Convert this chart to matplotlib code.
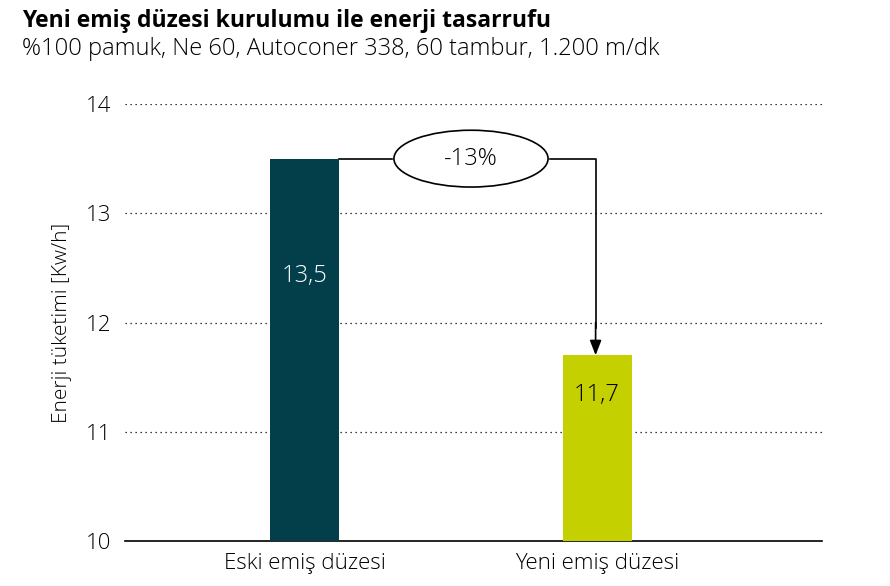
import matplotlib.pyplot as plt
from matplotlib.patches import Ellipse

categories = ['Eski emiş düzesi', 'Yeni emiş düzesi']
values = [13.5, 11.7]
value_labels = ['13,5', '11,7']
change_label = '-13%'
title = 'Yeni emiş düzesi kurulumu ile enerji tasarrufu'
subtitle = '%100 pamuk, Ne 60, Autoconer 338, 60 tambur, 1.200 m/dk'
ylabel = 'Enerji tüketimi [Kw/h]'

bar_colors = ['#023f4b', '#c5d000']
text_colors = ['white', 'black']
label_drop = [1.07, 0.36]  # how far below the bar top the value label sits

plt.rcParams['font.family'] = ['Open Sans', 'DejaVu Sans']

fig = plt.figure(figsize=(8.9, 5.86), dpi=100)
ax = fig.add_axes([0.1404, 0.0768, 0.7832, 0.7457])

x = list(range(len(categories)))
ax.bar(x, [v - 10 for v in values], bottom=10, width=0.236, color=bar_colors, zorder=3)
for xi, v, lab, c, d in zip(x, values, value_labels, text_colors, label_drop):
    ax.text(xi, v - d, lab, ha='center', va='center', fontsize=17, color=c,
            fontweight='light', zorder=4)

ax.set_xlim(-0.614, 1.769)
ax.set_ylim(10, 14)
ax.set_yticks([10, 11, 12, 13, 14])
ax.set_xticks(x)
ax.set_xticklabels(categories, fontsize=16, fontweight='light')
ax.tick_params(axis='y', labelsize=16, length=0, pad=10)
ax.tick_params(axis='x', length=0, pad=9)
for lab in ax.get_yticklabels():
    lab.set_fontweight('light')
ax.set_ylabel(ylabel, fontsize=15, fontweight='light', labelpad=10)

ax.grid(axis='y', linestyle=(0, (1, 3)), color='black', linewidth=0.9, zorder=0)
for s in ['top', 'right', 'left']:
    ax.spines[s].set_visible(False)
ax.spines['bottom'].set_linewidth(1.2)

# connector: from top of first bar through the ellipse down to second bar
ex = 0.569
x_right = x[1] - 0.005
ax.plot([x[0] + 0.118, ex - 0.27], [values[0], values[0]], color='black', lw=1.2, zorder=2)
ax.plot([ex + 0.27, x_right, x_right], [values[0], values[0], values[1] + 0.25],
        color='black', lw=1.2, zorder=2)
ax.annotate('', xy=(x_right, values[1]), xytext=(x_right, values[1] + 0.3),
            arrowprops=dict(arrowstyle='-|>,head_length=0.9,head_width=0.35',
                            color='black', lw=1.2, shrinkA=0, shrinkB=0))
ax.add_patch(Ellipse((ex, values[0]), 0.527, 0.52, facecolor='white',
                     edgecolor='black', lw=1.2, zorder=3))
ax.text(ex, values[0], change_label, ha='center', va='center', fontsize=17,
        fontweight='light', zorder=4)

fig.text(0.025, 0.954, title, fontsize=16.5, fontweight='bold', va='baseline')
fig.text(0.025, 0.906, subtitle, fontsize=17, fontweight='light', va='baseline')

fig.savefig('out.png', dpi=100)
